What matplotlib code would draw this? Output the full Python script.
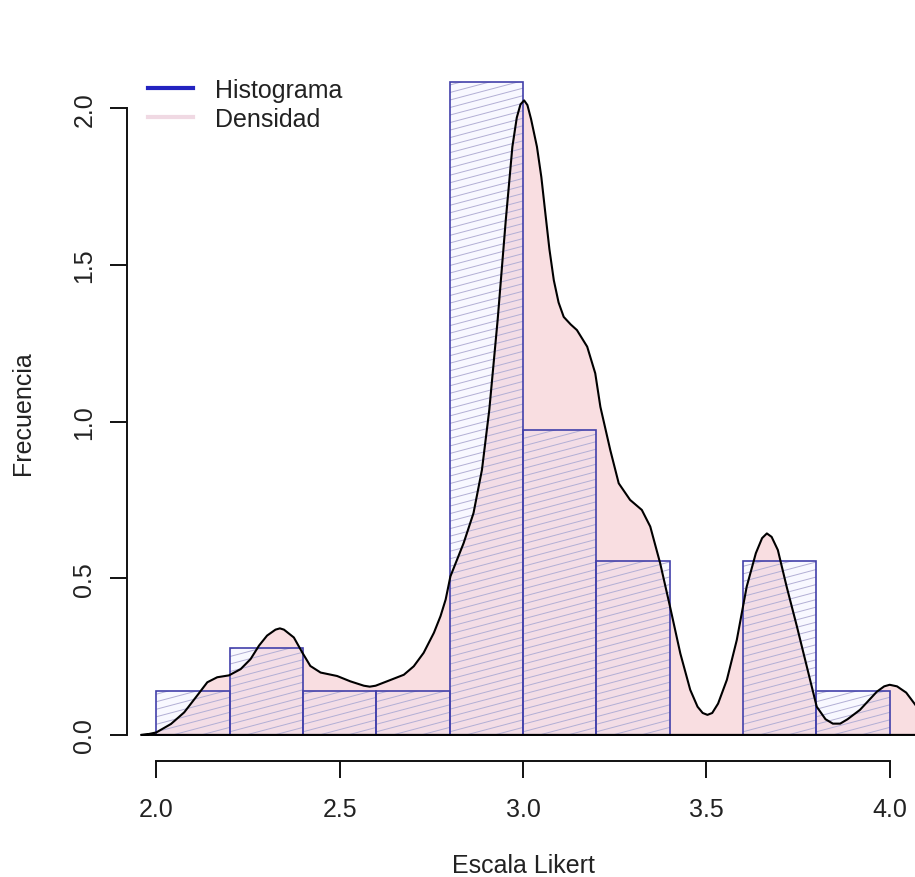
import numpy as np
import matplotlib
matplotlib.use("Agg")
import matplotlib.pyplot as plt
from matplotlib.collections import LineCollection
from matplotlib.lines import Line2D

plt.rcParams['font.family'] = ['Liberation Sans', 'DejaVu Sans']

# Histogram (density scale), bins of width 0.2 from 2.0 to 4.0
bin_edges = [2.0, 2.2, 2.4, 2.6, 2.8, 3.0, 3.2, 3.4, 3.6, 3.8]
bin_width = 0.2
bin_density = [0.139, 0.278, 0.139, 0.139, 2.083, 0.972, 0.556, 0.0, 0.556, 0.139]

# Kernel density estimate of the same scores
dens_x = [1.96, 1.98, 2.00, 2.04, 2.076, 2.111, 2.139, 2.166, 2.198, 2.23,
          2.257, 2.28, 2.302, 2.325, 2.337, 2.348, 2.375, 2.398, 2.42, 2.448,
          2.493, 2.529, 2.566, 2.582, 2.598, 2.629, 2.675, 2.702, 2.729, 2.757,
          2.775, 2.789, 2.802, 2.838, 2.865, 2.888, 2.908, 2.931, 2.953, 2.971,
          2.983, 2.993, 3.003, 3.012, 3.022, 3.038, 3.05, 3.061, 3.072, 3.084,
          3.097, 3.111, 3.13, 3.147, 3.175, 3.197, 3.211, 3.238, 3.261, 3.292,
          3.324, 3.347, 3.374, 3.401, 3.429, 3.456, 3.476, 3.49, 3.503, 3.516,
          3.532, 3.556, 3.583, 3.61, 3.635, 3.652, 3.665, 3.678, 3.695, 3.719,
          3.747, 3.774, 3.801, 3.825, 3.845, 3.865, 3.885, 3.919, 3.965, 3.985,
          4.0, 4.02, 4.045, 4.07, 4.10, 4.14]
dens_y = [0.0, 0.003, 0.008, 0.035, 0.072, 0.125, 0.168, 0.184, 0.19, 0.21,
          0.242, 0.285, 0.317, 0.336, 0.34, 0.336, 0.311, 0.263, 0.22, 0.199,
          0.188, 0.171, 0.157, 0.154, 0.157, 0.171, 0.192, 0.219, 0.262, 0.326,
          0.379, 0.432, 0.506, 0.612, 0.708, 0.846, 1.037, 1.327, 1.643, 1.877,
          1.97, 2.012, 2.025, 2.01, 1.965, 1.877, 1.78, 1.664, 1.55, 1.451,
          1.38, 1.334, 1.31, 1.292, 1.239, 1.154, 1.047, 0.909, 0.803, 0.75,
          0.718, 0.665, 0.548, 0.409, 0.26, 0.144, 0.09, 0.07, 0.064, 0.07,
          0.1, 0.176, 0.303, 0.473, 0.58, 0.628, 0.643, 0.632, 0.59, 0.473,
          0.346, 0.218, 0.09, 0.05, 0.036, 0.036, 0.05, 0.08, 0.138, 0.155,
          0.16, 0.155, 0.135, 0.096, 0.05, 0.0]

x_ticks = [2.0, 2.5, 3.0, 3.5, 4.0]
y_ticks = [0.0, 0.5, 1.0, 1.5, 2.0]

pink = '#f9dee1'
bar_edge = '#4240aa'
hatch_col = '#aaa6cc'
text_col = '#222222'
fsize = 18

fig = plt.figure(figsize=(9.15, 8.78), dpi=100)
ax = fig.add_axes([0.1388, 0.1321, 0.8656, 0.8030])
ax.set_xlim(1.92, 4.08)
ax.set_ylim(-0.0833, 2.1667)

# density area underneath the bars
ax.fill(dens_x, dens_y, facecolor=pink, edgecolor='none', zorder=1)

# histogram bars with slanted shading lines
bars = ax.bar(bin_edges, bin_density, width=bin_width, align='edge',
              facecolor=(0.85, 0.85, 1.0, 0.18), edgecolor=bar_edge,
              linewidth=1.2, zorder=3)
slope = 0.31
step = 0.024
for left, h, patch in zip(bin_edges, bin_density, bars):
    if h <= 0:
        continue
    starts = np.arange(-slope * bin_width, h + step, step)
    segs = [[(left, y0), (left + bin_width, y0 + slope * bin_width)] for y0 in starts]
    lc = LineCollection(segs, colors=hatch_col, linewidths=0.7, zorder=2)
    ax.add_collection(lc)
    lc.set_clip_path(patch)

# density outline (closed along the baseline)
ax.plot(dens_x + [dens_x[0]], dens_y + [dens_y[0]], color='black', lw=1.5,
        zorder=4, solid_joinstyle='round')

# R-style axes
for side in ['top', 'right']:
    ax.spines[side].set_visible(False)
ax.spines['left'].set_bounds(0, 2)
ax.spines['bottom'].set_bounds(2, 4)
for side in ['left', 'bottom']:
    ax.spines[side].set_linewidth(1.4)
    ax.spines[side].set_color('#111111')

ax.set_xticks(x_ticks)
ax.set_xticklabels([f'{v:.1f}' for v in x_ticks])
ax.set_yticks(y_ticks)
ax.set_yticklabels([f'{v:.1f}' for v in y_ticks], rotation=90, va='center')
ax.tick_params(axis='both', length=12, width=1.4, color='#111111',
               labelsize=fsize, labelcolor=text_col)
ax.tick_params(axis='x', pad=14)
ax.tick_params(axis='y', pad=10)

ax.set_xlabel('Escala Likert', fontsize=fsize, color=text_col)
ax.xaxis.set_label_coords(0.5, -0.1475)
ax.xaxis.label.set_va('center')
ax.set_ylabel('Frecuencia', fontsize=fsize, color=text_col)
ax.yaxis.set_label_coords(-0.1313, 0.495)
ax.yaxis.label.set_va('center')

handles = [Line2D([], [], color='#2323c0', lw=3),
           Line2D([], [], color='#f0d9e3', lw=3)]
ax.legend(handles, ['Histograma', 'Densidad'], loc='upper left',
          bbox_to_anchor=(0.0265, 0.969), frameon=False, borderpad=0,
          borderaxespad=0, handlelength=1.8, handletextpad=0.88,
          labelspacing=0.2, fontsize=fsize, labelcolor=text_col)

fig.savefig('out.png', dpi=100)
